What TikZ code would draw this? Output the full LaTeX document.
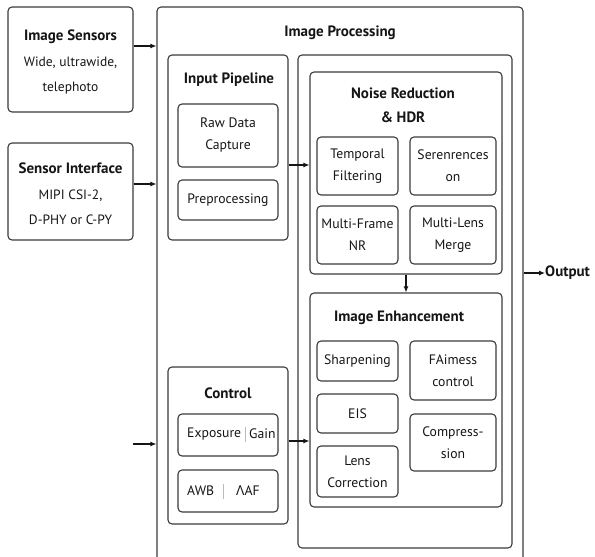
\documentclass[tikz,border=0pt]{standalone}
\usepackage{fontspec}
\setmainfont{PT Sans}
\newfontfamily\grkfont{Noto Sans}
\usetikzlibrary{arrows.meta}
\definecolor{linec}{HTML}{3A3A3A}
\definecolor{txt}{HTML}{151515}
\definecolor{sepc}{HTML}{BBBBBB}
% box given by its corners: name, x1, y1, x2, y2, style, text
\newcommand{\cornerbox}[7]{%
  \node[#6, minimum width={(#4)-(#2)}, minimum height={(#5)-(#3)}]
    (#1) at ({((#2)+(#4))/2},{((#3)+(#5))/2}) {#7};}
\begin{document}
\begin{tikzpicture}[x=1pt,y=-1pt,
  frame/.style={draw=linec, line width=1.1pt, rounded corners=4pt, inner sep=0pt},
  leaf/.style={frame, align=center, text=txt, font=\fontsize{13.7}{22}\selectfont},
  title/.style={inner sep=0pt, text=txt, align=center, font=\bfseries\fontsize{15}{25}\selectfont},
  body/.style={inner sep=0pt, text=txt, align=center, font=\fontsize{13.5}{25}\selectfont},
  plain/.style={inner sep=0pt, text=txt, font=\fontsize{13.7}{15}\selectfont},
  arr/.style={draw=txt, line width=1.1pt, -{Latex[length=6pt,width=5pt]}},
  sep/.style={draw=sepc, line width=0.6pt}]
\useasboundingbox (0,0) rectangle (595,557);
\clip (0,0) rectangle (595,557);

% sources on the left
\cornerbox{is}{8}{7}{133}{112}{frame}{}
\node[title] (istitle) at (70.5,37) {Image Sensors};
\node[body] (istext) at (70.5,75.5) {Wide, ultrawide,\\telephoto};

\cornerbox{si}{8}{143}{133}{240}{frame}{}
\node[title] (sititle) at (70.5,168) {Sensor Interface};
\node[body] (sitext) at (70.5,207.5) {MIPI CSI-2,\\D-PHY or C-PY};

% main processing frame (runs past the lower edge)
\cornerbox{ip}{157}{7}{523}{567}{frame}{}
\node[title] (iptitle) at (340,33) {Image Processing};

% input pipeline
\cornerbox{inp}{168}{55}{288}{240}{frame}{}
\node[title] (inptitle) at (229,80) {Input Pipeline};
\cornerbox{raw}{178}{104}{278}{167}{leaf}{Raw Data\\Capture}
\cornerbox{pre}{178}{180}{278}{220}{leaf}{Preprocessing}

% control
\cornerbox{ctl}{168}{367}{288}{524}{frame}{}
\node[title] (ctltitle) at (228,393) {Control};
\cornerbox{exg}{178}{414}{278}{456}{frame}{}
\node[plain, anchor=west] (expo) at (187,434) {Exposure};
\node[plain, anchor=west] (gain) at (249,434) {Gain};
\coordinate (s1a) at (245,427); \coordinate (s1b) at (245,442);
\draw[sep] (s1a) -- (s1b);
\cornerbox{awb}{178}{470}{278}{512}{frame}{}
\node[plain, anchor=west] (awbt) at (187,491) {AWB};
\node[plain, anchor=west] (aaf) at (236,491) {{\grkfont Λ}AF};
\coordinate (s2a) at (223,484); \coordinate (s2b) at (223,499);
\draw[sep] (s2a) -- (s2b);

% right-hand column
\cornerbox{rp}{298}{55}{512}{548}{frame}{}

\cornerbox{nr}{310}{72}{502}{274}{frame}{}
\node[title] (nrtitle) at (403,105) {Noise Reduction\\[-1pt]\& HDR};
\cornerbox{tf}{317}{137}{398}{195}{leaf}{Temporal\\Filtering}
\cornerbox{se}{410}{137}{496}{195}{leaf}{Serenrences\\on}
\cornerbox{mf}{317}{206}{398}{264}{leaf}{Multi-Frame\\NR}
\cornerbox{ml}{410}{206}{496}{264}{leaf}{Multi-Lens\\Merge}

\cornerbox{ie}{310}{293}{502}{507}{frame}{}
\node[title] (ietitle) at (399,318) {Image Enhancement};
\cornerbox{sh}{317}{341}{398}{381}{leaf}{Sharpening}
\cornerbox{eis}{317}{394}{398}{433}{leaf}{EIS}
\cornerbox{lc}{317}{446}{398}{497}{leaf}{Lens\\Correction}
\cornerbox{fa}{410}{341}{496}{400}{leaf}{FAimess\\control}
\cornerbox{cp}{410}{414}{496}{471}{leaf}{Compress-\\sion}

% output
\node[title, anchor=west, font=\bfseries\fontsize{15}{16}\selectfont] (out) at (545,273) {Output};

% connectors
\coordinate (y1) at (0,46);
\coordinate (y2) at (0,184);
\coordinate (y3) at (0,165);
\coordinate (y4) at (0,441);
\coordinate (ctlin) at (133,444);
\draw[arr] (is.east |- y1) -- (ip.west |- y1);
\draw[arr] (si.east |- y2) -- (ip.west |- y2);
\draw[arr] (inp.east |- y3) -- (nr.west |- y3);
\draw[arr] (nr.south) -- (ie.north);
\draw[arr] (ctl.east |- y4) -- (ie.west |- y4);
\draw[arr] (ctlin) -- (ip.west |- ctlin);
\draw[arr] (ip.east |- out.west) -- (out.west);
\end{tikzpicture}
\end{document}
